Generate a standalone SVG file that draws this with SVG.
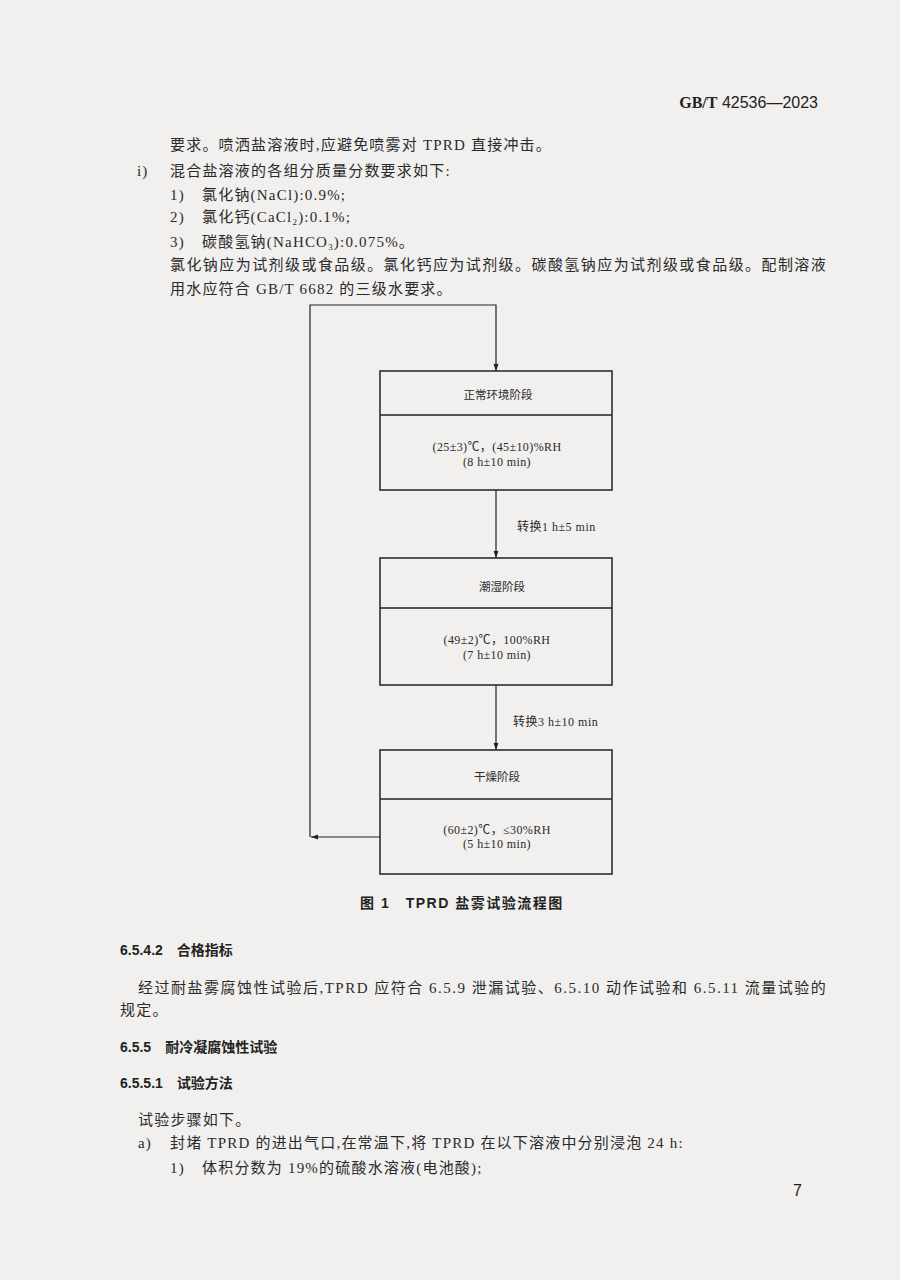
<svg xmlns="http://www.w3.org/2000/svg" width="900" height="1280" viewBox="0 0 900 1280">
<defs>
<marker id="ah" viewBox="0 0 10 10" refX="10" refY="5" markerWidth="7" markerHeight="7" markerUnits="userSpaceOnUse" orient="auto">
<path d="M0,1.5 L10,5 L0,8.5 Z" fill="#222"/>
</marker>
<style>
.bg{fill:#f1f0ee}
.t{font-family:"Liberation Serif","Noto Sans CJK SC",serif;font-size:15px;fill:#2a2a2a;letter-spacing:1.2px}
.h{font-family:"Liberation Sans","Noto Sans CJK SC",sans-serif;font-size:14px;font-weight:bold;fill:#222}
.hd{font-family:"Liberation Sans","Noto Sans CJK SC",sans-serif;font-size:16px;fill:#222}
.d{font-family:"Liberation Serif","Noto Sans CJK SC",serif;font-size:12px;fill:#2a2a2a;text-anchor:middle;letter-spacing:0.4px}
.dt{font-family:"Liberation Serif","Noto Sans CJK SC",serif;font-size:11.5px;fill:#2a2a2a;text-anchor:middle}
.dl{font-family:"Liberation Serif","Noto Sans CJK SC",serif;font-size:12px;fill:#2a2a2a;letter-spacing:0.5px}
.box{fill:none;stroke:#222;stroke-width:1.5}
.ln{fill:none;stroke:#222;stroke-width:1.2}
</style>
</defs>
<rect class="bg" x="0" y="0" width="900" height="1280"/>

<text x="818" y="108" text-anchor="end" class="hd"><tspan font-family="Liberation Serif" font-weight="bold">GB/T</tspan> 42536—2023</text>

<g id="text-top">
<text class="t" x="170" y="150">要求。喷洒盐溶液时,应避免喷雾对 TPRD 直接冲击。</text>
<text class="t" x="137" y="176">i)</text>
<text class="t" x="170" y="176">混合盐溶液的各组分质量分数要求如下:</text>
<text class="t" x="170" y="200">1)</text>
<text class="t" x="202" y="200">氯化钠(NaCl):0.9%;</text>
<text class="t" x="170" y="222">2)</text>
<text class="t" x="202" y="222">氯化钙(CaCl<tspan font-size="9" dy="3">2</tspan><tspan dy="-3">):0.1%;</tspan></text>
<text class="t" x="170" y="247">3)</text>
<text class="t" x="202" y="247">碳酸氢钠(NaHCO<tspan font-size="9" dy="3">3</tspan><tspan dy="-3">):0.075%。</tspan></text>
<text class="t" x="170" y="270" textLength="657" lengthAdjust="spacing">氯化钠应为试剂级或食品级。氯化钙应为试剂级。碳酸氢钠应为试剂级或食品级。配制溶液</text>
<text class="t" x="170" y="294">用水应符合 GB/T 6682 的三级水要求。</text>
</g>

<g id="connectors">
<path class="ln" d="M310,837 L310,305 L496,305 L496,371" marker-end="url(#ah)"/>
<path class="ln" d="M496,490 L496,558" marker-end="url(#ah)"/>
<path class="ln" d="M496,685 L496,750" marker-end="url(#ah)"/>
<path class="ln" d="M380,837 L311,837" marker-end="url(#ah)"/>
<text class="dl" x="517" y="531">转换1 h±5 min</text>
<text class="dl" x="513" y="726">转换3 h±10 min</text>
</g>

<g id="node-normal">
<rect class="box" x="380" y="371" width="232" height="119"/>
<line class="box" x1="380" y1="415" x2="612" y2="415"/>
<text class="dt" x="498" y="399">正常环境阶段</text>
<text class="d" x="497" y="451">(25±3)℃，(45±10)%RH</text>
<text class="d" x="497" y="466">(8 h±10 min)</text>
</g>

<g id="node-humid">
<rect class="box" x="380" y="558" width="232" height="127"/>
<line class="box" x1="380" y1="608" x2="612" y2="608"/>
<text class="dt" x="502" y="591">潮湿阶段</text>
<text class="d" x="497" y="644">(49±2)℃，100%RH</text>
<text class="d" x="497" y="659">(7 h±10 min)</text>
</g>

<g id="node-dry">
<rect class="box" x="380" y="750" width="232" height="124"/>
<line class="box" x1="380" y1="799" x2="612" y2="799"/>
<text class="dt" x="497" y="781">干燥阶段</text>
<text class="d" x="497" y="834">(60±2)℃，≤30%RH</text>
<text class="d" x="497" y="848">(5 h±10 min)</text>
</g>

<text class="h" x="360" y="908" letter-spacing="1.5">图 1　TPRD 盐雾试验流程图</text>

<g id="text-bottom">
<text class="h" x="120" y="955">6.5.4.2　合格指标</text>
<text class="t" x="138" y="993" textLength="689" lengthAdjust="spacing">经过耐盐雾腐蚀性试验后,TPRD 应符合 6.5.9 泄漏试验、6.5.10 动作试验和 6.5.11 流量试验的</text>
<text class="t" x="120" y="1015">规定。</text>
<text class="h" x="120" y="1052">6.5.5　耐冷凝腐蚀性试验</text>
<text class="h" x="120" y="1088">6.5.5.1　试验方法</text>
<text class="t" x="138" y="1125">试验步骤如下。</text>
<text class="t" x="138" y="1148">a)</text>
<text class="t" x="170" y="1148">封堵 TPRD 的进出气口,在常温下,将 TPRD 在以下溶液中分别浸泡 24 h:</text>
<text class="t" x="170" y="1173">1)</text>
<text class="t" x="202" y="1173">体积分数为 19%的硫酸水溶液(电池酸);</text>
<text class="hd" x="793" y="1196" font-size="12">7</text>
</g>
</svg>
